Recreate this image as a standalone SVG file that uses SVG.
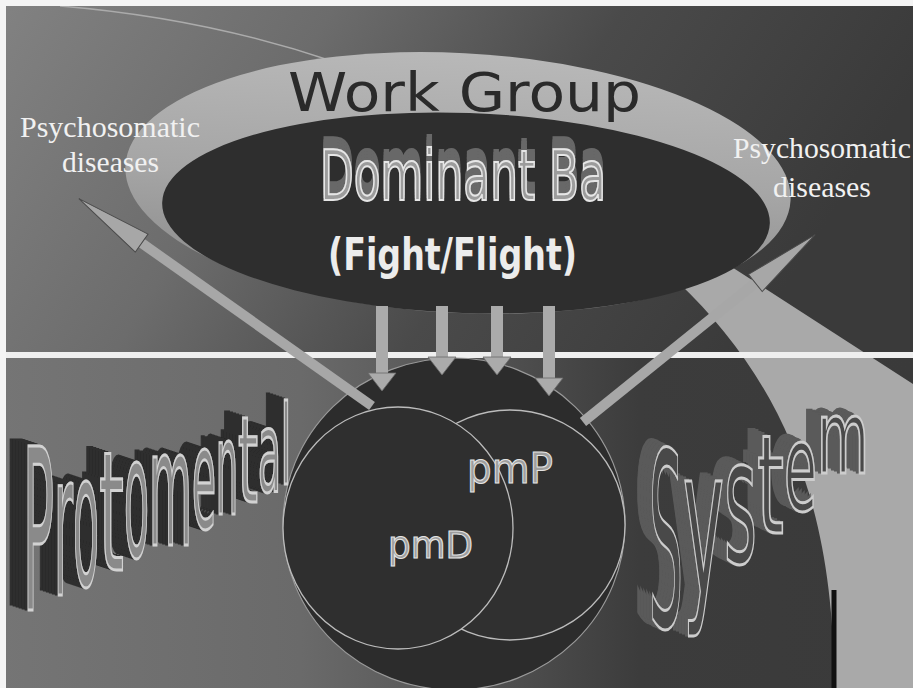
<svg xmlns="http://www.w3.org/2000/svg" width="913" height="688" viewBox="0 0 913 688">
<style>
.serif{font-family:"Liberation Serif","Times New Roman",serif;font-size:29px;fill:#f1f1f1;}
.wg{font-family:"DejaVu Sans",Verdana,sans-serif;font-size:54px;fill:#2a2a2a;}
.dom{font-family:"DejaVu Sans Condensed","DejaVu Sans",sans-serif;font-size:69px;fill:#9c9c9c;stroke:#e6e6e6;stroke-width:2;}
.ff{font-family:"DejaVu Sans Condensed","DejaVu Sans",sans-serif;font-weight:bold;font-size:45px;fill:#ececec;}
.pm{font-family:"DejaVu Sans",Verdana,sans-serif;fill:#9e9e9e;stroke:#e4e4e4;stroke-width:1.1;}
.proto{font-family:"DejaVu Sans",Verdana,sans-serif;fill:#8a8a8a;stroke:#d2d2d2;stroke-width:3;vector-effect:non-scaling-stroke;}
.sys{font-family:"DejaVu Sans",Verdana,sans-serif;fill:#484848;stroke:#cdcdcd;stroke-width:3;vector-effect:non-scaling-stroke;}
.circ{stroke:#bcbcbc;stroke-width:1.3;}
.vshaft{stroke:#ababab;stroke-width:12;marker-end:url(#headDown);}
.dshaft{stroke:#a7a7a7;stroke-width:10;marker-end:url(#headDiag);}
</style>
<defs>
<linearGradient id="bgTop" x1="0" y1="0" x2="1" y2="0.25">
<stop offset="0" stop-color="#828282"/>
<stop offset="0.35" stop-color="#6c6c6c"/>
<stop offset="0.65" stop-color="#4a4a4a"/>
<stop offset="1" stop-color="#3a3a3a"/>
</linearGradient>
<linearGradient id="bgBot" x1="0" y1="0" x2="1" y2="0">
<stop offset="0" stop-color="#757575"/>
<stop offset="0.33" stop-color="#6a6a6a"/>
<stop offset="0.55" stop-color="#505050"/>
<stop offset="0.7" stop-color="#3c3c3c"/>
<stop offset="1" stop-color="#3a3a3a"/>
</linearGradient>
<linearGradient id="ringFill" x1="0" y1="0" x2="0" y2="1">
<stop offset="0" stop-color="#b8b8b8"/>
<stop offset="0.5" stop-color="#a5a5a5"/>
<stop offset="1" stop-color="#878787"/>
</linearGradient>
<filter id="extrudeUp" x="-20%" y="-40%" width="140%" height="180%">
<feFlood flood-color="#686868" result="c"/>
<feComposite in="c" in2="SourceAlpha" operator="in" result="d"/>
<feOffset in="d" dx="0" dy="-3" result="o1"/>
<feOffset in="d" dx="0" dy="-6" result="o2"/>
<feOffset in="d" dx="0" dy="-9" result="o3"/>
<feOffset in="d" dx="0" dy="-12" result="o4"/>
<feMerge><feMergeNode in="o4"/><feMergeNode in="o3"/><feMergeNode in="o2"/><feMergeNode in="o1"/><feMergeNode in="SourceGraphic"/></feMerge>
</filter>
<filter id="extrudeProto" x="-20%" y="-20%" width="140%" height="140%">
<feFlood flood-color="#2f2f2f" result="c"/>
<feComposite in="c" in2="SourceAlpha" operator="in" result="d"/>
<feOffset in="d" dx="-13.6" dy="-1" result="o1"/>
<feOffset in="d" dx="-27.2" dy="-2" result="o2"/>
<feOffset in="d" dx="-40.8" dy="-3" result="o3"/>
<feOffset in="d" dx="-54.4" dy="-4" result="o4"/>
<feOffset in="d" dx="-68" dy="-5" result="o5"/>
<feOffset in="d" dx="-81.6" dy="-6" result="o6"/>
<feMerge><feMergeNode in="o6"/><feMergeNode in="o5"/><feMergeNode in="o4"/><feMergeNode in="o3"/><feMergeNode in="o2"/><feMergeNode in="o1"/><feMergeNode in="SourceGraphic"/></feMerge>
</filter>
<filter id="extrudeSys" x="-20%" y="-20%" width="140%" height="140%">
<feFlood flood-color="#5a5a5a" result="c"/>
<feComposite in="c" in2="SourceAlpha" operator="in" result="d"/>
<feOffset in="d" dx="-13.6" dy="-1.5" result="o1"/>
<feOffset in="d" dx="-27.2" dy="-3" result="o2"/>
<feOffset in="d" dx="-40.8" dy="-4.5" result="o3"/>
<feOffset in="d" dx="-54.4" dy="-6" result="o4"/>
<feOffset in="d" dx="-68" dy="-7.5" result="o5"/>
<feMerge><feMergeNode in="o5"/><feMergeNode in="o4"/><feMergeNode in="o3"/><feMergeNode in="o2"/><feMergeNode in="o1"/><feMergeNode in="SourceGraphic"/></feMerge>
</filter>
<marker id="headDown" markerUnits="userSpaceOnUse" markerWidth="19" markerHeight="30" viewBox="0 0 19 30" refX="0" refY="15" orient="auto" overflow="visible">
<path d="M0,1 L18,15 L0,29 Z" fill="#ababab" stroke="#6a6a6a" stroke-width="0.8"/>
</marker>
<marker id="headDiag" markerUnits="userSpaceOnUse" markerWidth="78" markerHeight="24" viewBox="0 0 78 24" refX="0" refY="12" orient="auto" overflow="visible">
<path d="M0,1 L77,12 L0,23 Z" fill="#a7a7a7" stroke="#4a4a4a" stroke-width="1"/>
</marker>
</defs>

<g id="background">
<rect x="0" y="0" width="913" height="355" fill="url(#bgTop)"/>
<rect x="0" y="355" width="913" height="333" fill="url(#bgBot)"/>
<path d="M60,6 Q205,18 335,62" fill="none" stroke="#ababab" stroke-width="1.5"/>
<path d="M678,282 L724,262 L913,384 L913,688 L834,688 C835,490 772,372 678,282 Z" fill="#a9a9a9"/>
<line x1="834" y1="590" x2="834" y2="688" stroke="#111111" stroke-width="5"/>
<rect x="0" y="0" width="913" height="6" fill="#f4f4f4"/>
<rect x="0" y="0" width="6" height="688" fill="#f4f4f4"/>
</g>

<g id="work-group">
<ellipse cx="458" cy="183" rx="333" ry="130" transform="rotate(3 458 183)" fill="url(#ringFill)"/>
<text class="wg" x="288" y="111" textLength="353" lengthAdjust="spacingAndGlyphs">Work Group</text>
</g>

<g id="dominant-ba">
<ellipse cx="466" cy="213" rx="304" ry="100" transform="rotate(2 466 213)" fill="#2e2e2e"/>
<text class="dom" x="320" y="200" textLength="286" lengthAdjust="spacingAndGlyphs" filter="url(#extrudeUp)">Dominant Ba</text>
<text class="ff" x="328" y="270" textLength="249" lengthAdjust="spacingAndGlyphs">(Fight/Flight)</text>
</g>

<rect id="divider" x="6" y="352" width="907" height="6" fill="#efefef"/>

<g id="protomental-circle">
<ellipse cx="454" cy="524" rx="171" ry="166" fill="#2c2c2c" stroke="#9a9a9a" stroke-width="1.2"/>
</g>
<g id="pmP">
<circle class="circ" cx="510" cy="525" r="115" fill="#303030"/>
</g>
<g id="pmD">
<ellipse class="circ" cx="398" cy="528" rx="115" ry="121" fill="#2f2f2f"/>
<text class="pm" x="388" y="558" font-size="37" textLength="85" lengthAdjust="spacingAndGlyphs">pmD</text>
</g>
<g id="pmP-label">
<text class="pm" x="467" y="483" font-size="43" textLength="86" lengthAdjust="spacingAndGlyphs">pmP</text>
</g>

<g id="connectors">
<line class="dshaft" x1="372" y1="406" x2="141.7" y2="243.1"/>
<line class="dshaft" x1="583" y1="422" x2="755.3" y2="283"/>
<line class="vshaft" x1="382" y1="306" x2="382" y2="373"/>
<line class="vshaft" x1="442" y1="306" x2="442" y2="357"/>
<line class="vshaft" x1="497" y1="306" x2="497" y2="357"/>
<line class="vshaft" x1="549" y1="306" x2="549" y2="378"/>
</g>

<g id="psychosomatic-left">
<text class="serif" x="20" y="137" textLength="180" lengthAdjust="spacingAndGlyphs">Psychosomatic</text>
<text class="serif" x="62" y="172" textLength="97" lengthAdjust="spacingAndGlyphs">diseases</text>
</g>
<g id="psychosomatic-right">
<text class="serif" x="733" y="158" textLength="178" lengthAdjust="spacingAndGlyphs">Psychosomatic</text>
<text class="serif" x="773" y="197" textLength="98" lengthAdjust="spacingAndGlyphs">diseases</text>
</g>

<g id="label-protomental">
<text class="proto" transform="scale(0.22 1)" filter="url(#extrudeProto)"><tspan x="104.5" y="610" font-size="224" textLength="140.9" lengthAdjust="spacingAndGlyphs">P</tspan><tspan x="245.5" y="595" font-size="200" textLength="86.4" lengthAdjust="spacingAndGlyphs">r</tspan><tspan x="331.8" y="585" font-size="185" textLength="118.2" lengthAdjust="spacingAndGlyphs">o</tspan><tspan x="450" y="570" font-size="165" textLength="113.6" lengthAdjust="spacingAndGlyphs">t</tspan><tspan x="563.6" y="557" font-size="170" textLength="113.6" lengthAdjust="spacingAndGlyphs">o</tspan><tspan x="677.3" y="545" font-size="160" textLength="195.5" lengthAdjust="spacingAndGlyphs">m</tspan><tspan x="872.7" y="528" font-size="140" textLength="109.1" lengthAdjust="spacingAndGlyphs">e</tspan><tspan x="981.8" y="514" font-size="130" textLength="100" lengthAdjust="spacingAndGlyphs">n</tspan><tspan x="1081.8" y="502" font-size="120" textLength="90.9" lengthAdjust="spacingAndGlyphs">t</tspan><tspan x="1172.7" y="491" font-size="112" textLength="104.5" lengthAdjust="spacingAndGlyphs">a</tspan><tspan x="1277.3" y="484" font-size="110" textLength="45.5" lengthAdjust="spacingAndGlyphs">l</tspan></text>
</g>

<g id="label-system">
<text class="sys" transform="scale(0.22 1)" filter="url(#extrudeSys)"><tspan x="2950" y="627" font-size="243" textLength="154.5" lengthAdjust="spacingAndGlyphs">S</tspan><tspan x="3104.5" y="593" font-size="205" textLength="186.4" lengthAdjust="spacingAndGlyphs">y</tspan><tspan x="3290.9" y="563" font-size="175" textLength="150" lengthAdjust="spacingAndGlyphs">s</tspan><tspan x="3440.9" y="533" font-size="137" textLength="122.7" lengthAdjust="spacingAndGlyphs">t</tspan><tspan x="3563.6" y="510" font-size="122" textLength="150" lengthAdjust="spacingAndGlyphs">e</tspan><tspan x="3713.6" y="473" font-size="102" textLength="236.4" lengthAdjust="spacingAndGlyphs">m</tspan></text>
</g>
</svg>
